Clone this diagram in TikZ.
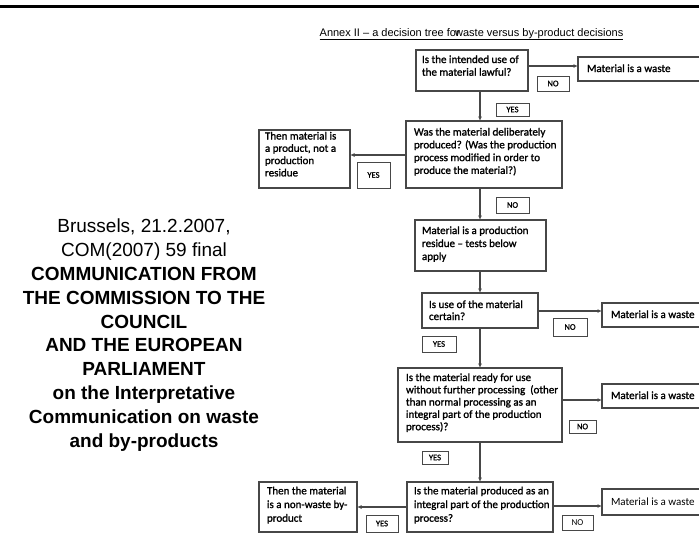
\documentclass[tikz,border=0pt]{standalone}
\usepackage{fontspec}
\setmainfont{Liberation Sans}
\newfontfamily\dfont[FakeBold=1.4]{Carlito}
\newfontfamily\dfontr{Carlito}
\usetikzlibrary{arrows.meta}
% width, height, left pad, first baseline, baselineskip, text
\newcommand\bxt[6]{\parbox[c][#2pt][t]{#1pt}{\dfont\fontsize{11}{#5pt}\selectfont\raggedright\leftskip=#3pt\relax\vspace*{\dimexpr#4pt-9pt\relax}\rule{0pt}{9pt}#6}}
\tikzset{
  box/.style={draw=black!72, line width=1.1pt, inner sep=0pt, outer sep=0pt, anchor=north west},
  tag/.style={draw=black!72, line width=1pt, inner sep=0pt, outer sep=0pt, anchor=north west, font=\dfont\fontsize{8.5}{9}\selectfont},
  tagr/.style={tag, font=\dfontr\fontsize{9}{10}\selectfont},
  arr/.style={draw=black!72, line width=1.1pt, -{Latex[length=4.5pt,width=4pt]}},
}
\begin{document}
\begin{tikzpicture}[x=1pt,y=-1pt]
\useasboundingbox (0,0) rectangle (699,542);
\clip (0,0) rectangle (699,542);
\fill[white] (0,0) rectangle (699,542);
\draw[line width=3pt] (0,6.5) -- (699,6.5);

% title
\node[anchor=base, inner sep=0pt, font=\fontsize{11}{13}\selectfont] (ttl) at (471.5,36)
  {\underline{Annex II – a decision tree for\kern-4.5pt waste versus by-product decisions}};

% left text
\node[anchor=north, align=center, inner sep=0pt, font=\fontsize{19}{23.8}\selectfont] (hd) at (144,219)
  {Brussels, 21.2.2007,\\COM(2007) 59 final\\\textbf{COMMUNICATION FROM}\\\textbf{THE COMMISSION TO THE}\\\textbf{COUNCIL}\\\textbf{AND THE EUROPEAN}\\\textbf{PARLIAMENT}\\\textbf{on the Interpretative}\\\textbf{Communication on waste}\\\textbf{and by-products}};

% decision boxes
\node[box] (b1) at (416,50) {\bxt{112}{41}{6}{13}{12.7}{Is the intended use of\\the material lawful?}};
\node[box] (b2) at (406,121) {\bxt{156}{67}{8}{14.5}{12.8}{Was the material deliberately\\produced? (Was the production\\process modified in order to\\produce the material?)}};
\node[box] (p1) at (259,130) {\bxt{91}{58}{6}{9.5}{12.3}{Then material is\\a product, not a\\production\\residue}};
\node[box] (b3) at (415,220) {\bxt{131}{51}{7}{14}{13}{Material is a production\\residue – tests below\\apply}};
\node[box] (b4) at (422,293) {\bxt{116}{35}{7}{15}{12}{Is use of the material\\certain?}};
\node[box] (b5) at (398,368) {\bxt{164}{74}{8}{13}{12.3}{Is the material ready for use\\without further processing\ \ (other\\than normal processing as an\\integral part of the production\\process)?}};
\node[box] (b6) at (407,482) {\bxt{146}{50}{7}{12.3}{13.7}{Is the material produced as an\\integral part of the production\\process?}};
\node[box] (p2) at (259,482) {\bxt{98}{50}{8}{12.3}{13.7}{Then the material\\is a non-waste by-\\product}};

% waste boxes
\node[box] (w1) at (578,57) {\bxt{130}{24}{9}{15}{13}{Material is a waste}};
\node[box] (w2) at (602,303) {\bxt{110}{24}{9}{15}{13}{Material is a waste}};
\node[box] (w3) at (602,384) {\bxt{110}{24}{9}{15}{13}{Material is a waste}};
\node[box] (w4) at (602,489) {\bxt{110}{26}{9}{16}{13}{\dfontr Material is a waste}};

% yes / no tags
\node[tag, minimum width=32pt, minimum height=15pt] (no1) at (537,76) {NO};
\node[tag, minimum width=33pt, minimum height=13pt] (yes1) at (496,103) {YES};
\node[tag, minimum width=33pt, minimum height=26pt] (yes2) at (357,162) {YES};
\node[tag, minimum width=33pt, minimum height=16pt] (no2) at (496,197) {NO};
\node[tag, minimum width=34pt, minimum height=18pt] (no3) at (553,318) {NO};
\node[tag, minimum width=34pt, minimum height=16pt] (yes3) at (422,336) {YES};
\node[tag, minimum width=27pt, minimum height=13pt] (no4) at (569,420) {NO};
\node[tag, minimum width=26pt, minimum height=13pt] (yes4) at (422,451) {YES};
\node[tag, minimum width=32pt, minimum height=17pt] (yes5) at (366,515) {YES};
\node[tagr, minimum width=31pt, minimum height=15pt] (no5) at (562,515) {NO};

% connectors
\draw[arr] (b1.east |- 0,66) -- (w1.west |- 0,66);
\draw[arr] (480,0 |- b1.south) -- (480,0 |- b2.north);
\draw[arr] (b2.west |- 0,155) -- (p1.east |- 0,155);
\draw[arr] (480,0 |- b2.south) -- (480,0 |- b3.north);
\draw[arr] (480,0 |- b3.south) -- (480,0 |- b4.north);
\draw[arr] (b4.east |- 0,311) -- (w2.west |- 0,311);
\draw[arr] (480,0 |- b4.south) -- (480,0 |- b5.north);
\draw[arr] (b5.east |- 0,400) -- (w3.west |- 0,400);
\draw[arr] (480,0 |- b5.south) -- (480,0 |- b6.north);
\draw[arr] (b6.east |- 0,506) -- (w4.west |- 0,506);
\draw[arr] (b6.west |- 0,507) -- (p2.east |- 0,507);
\end{tikzpicture}
\end{document}
